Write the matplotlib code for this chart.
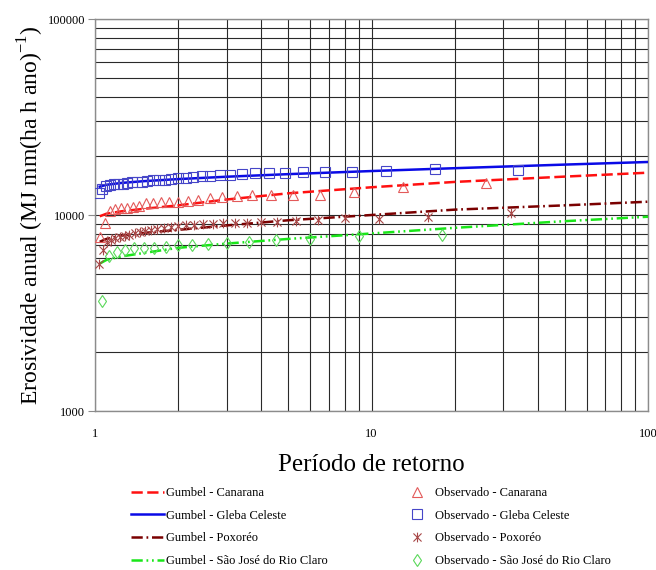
import numpy as np
import matplotlib
import matplotlib.pyplot as plt
from matplotlib.path import Path

matplotlib.use('agg')

# periodos de retorno usados para as curvas de Gumbel
t_fit = [1.04, 1.1, 1.25, 1.5, 2, 3, 5, 10, 20, 50, 100]

gumbel_canarana = [9850, 10150, 10450, 10750, 11200, 12000, 12900, 13850, 14750, 15700, 16440]
gumbel_gleba = [13950, 14260, 14580, 14880, 15250, 15680, 16160, 16760, 17330, 18080, 18640]
gumbel_poxoreo = [7300, 7550, 7850, 8100, 8400, 8850, 9400, 10000, 10650, 11200, 11690]
gumbel_sjrc = [5650, 5900, 6150, 6400, 6800, 7150, 7550, 8050, 8600, 9300, 9800]

# observados - Canarana
t_canarana = [26, 13, 8.67, 6.5, 5.2, 4.33, 3.71, 3.25, 2.89, 2.6, 2.36, 2.17, 2.0,
              1.857, 1.733, 1.625, 1.529, 1.444, 1.368, 1.3, 1.238, 1.182, 1.13, 1.083, 1.04]
obs_canarana = [14500, 13950, 13150, 12650, 12600, 12700, 12600, 12500, 12400, 12200, 11950, 11800, 11700,
                11650, 11600, 11550, 11450, 11100, 11000, 10900, 10800, 10700, 10500, 9100, 7700]

# observados - Gleba Celeste
t_gleba = [34, 17, 11.33, 8.5, 6.8, 5.67, 4.86, 4.25, 3.78, 3.4, 3.09, 2.83, 2.615, 2.43, 2.27, 2.125, 2.0,
           1.889, 1.789, 1.7, 1.619, 1.545, 1.478, 1.417, 1.36, 1.308, 1.259, 1.214, 1.172, 1.133, 1.097,
           1.0625, 1.03]
obs_gleba = [17030, 17100, 16770, 16630, 16500, 16630, 16430, 16380, 16290, 16190, 16080, 15990, 15890, 15800,
             15630, 15530, 15440, 15260, 15170, 15080, 15000, 14910, 14820, 14730, 14650, 14560, 14470, 14390,
             14310, 14230, 14060, 13570, 12950]

# observados - Poxoreo
t_poxoreo = [32, 16, 10.67, 8, 6.4, 5.33, 4.57, 4, 3.56, 3.2, 2.91, 2.67, 2.46, 2.29, 2.13, 2.0, 1.88, 1.78,
             1.68, 1.6, 1.52, 1.45, 1.39, 1.33, 1.28, 1.23, 1.185, 1.143, 1.103, 1.067, 1.032]
obs_poxoreo = [10200, 9730, 9500, 9620, 9430, 9350, 9250, 9200, 9150, 9100, 9050, 9000, 8950, 8900, 8850, 8800,
               8700, 8600, 8500, 8400, 8250, 8150, 8050, 7950, 7850, 7750, 7600, 7450, 7300, 6650, 5600]

# observados - Sao Jose do Rio Claro
t_sjrc = [18, 9, 6, 4.5, 3.6, 3.0, 2.57, 2.25, 2.0, 1.8, 1.636, 1.5, 1.385, 1.286, 1.2, 1.125, 1.059]
obs_sjrc = [7900, 7830, 7520, 7450, 7250, 7170, 7100, 7040, 7000, 6900, 6800, 6750, 6750, 6630, 6450, 6150, 3650]

x_ticks = [1, 10, 100]
y_ticks = [1000, 10000, 100000]

serif = 'Liberation Serif'

# marcador tipo "asterisco" do excel (X com traco vertical)
star_path = Path([(-1, -1), (1, 1), (-1, 1), (1, -1), (0, -1.2), (0, 1.2)],
                 [Path.MOVETO, Path.LINETO, Path.MOVETO, Path.LINETO, Path.MOVETO, Path.LINETO])

fig = plt.figure(figsize=(6.56, 5.70), dpi=100)
ax = fig.add_axes([95 / 656, 159 / 570, 553 / 656, 392 / 570])

ax.plot(t_fit, gumbel_canarana, color='#ff1010', lw=1.8, dashes=(4.5, 1.8), label='Gumbel - Canarana', zorder=3)
ax.plot(t_fit, gumbel_gleba, color='#0a0ae6', lw=1.8, label='Gumbel - Gleba Celeste', zorder=3)
ax.plot(t_fit, gumbel_poxoreo, color='#7a0000', lw=1.8, dashes=(4.5, 1.5, 0.7, 1.5),
        label='Gumbel - Poxoréo', zorder=3)
ax.plot(t_fit, gumbel_sjrc, color='#19e619', lw=1.8, dashes=(4.5, 1.5, 0.7, 1.5, 0.7, 1.5),
        label='Gumbel - São José do Rio Claro', zorder=3)

ax.plot(t_canarana, obs_canarana, ls='none', marker='^', ms=7, mfc='none', mec='#e35a5a', mew=0.8,
        label='Observado - Canarana', zorder=4)
ax.plot(t_gleba, obs_gleba, ls='none', marker='s', ms=6.5, mfc='none', mec='#4646c8', mew=0.8,
        label='Observado - Gleba Celeste', zorder=4)
ax.plot(t_poxoreo, obs_poxoreo, ls='none', marker=star_path, ms=7, mfc='none', mec='#a84848', mew=0.8,
        label='Observado - Poxoréo', zorder=4)
ax.plot(t_sjrc, obs_sjrc, ls='none', marker='d', ms=6.5, mfc='none', mec='#5ad85a', mew=0.8,
        label='Observado - São José do Rio Claro', zorder=4)

ax.set_xscale('log')
ax.set_yscale('log')
ax.set_xlim(1, 100)
ax.set_ylim(1000, 100000)

ax.grid(True, which='both', color='#2a2a2a', lw=0.8)
ax.set_axisbelow(True)
for s in ax.spines.values():
    s.set_color('#8c8c8c')
    s.set_linewidth(1.0)

ax.set_xticks(x_ticks)
ax.set_xticklabels([str(v) for v in x_ticks])
ax.set_yticks(y_ticks)
ax.set_yticklabels([str(v) for v in y_ticks])
ax.tick_params(which='minor', length=0)
ax.tick_params(axis='x', which='major', length=0, pad=12)
ax.tick_params(axis='y', which='major', length=5, pad=2, color='#8c8c8c')
for lb in ax.get_xticklabels() + ax.get_yticklabels():
    lb.set_fontfamily(serif)
    lb.set_fontsize(9)

ax.set_xlabel('Período de retorno', fontfamily=serif, fontsize=18, labelpad=10)
ax.set_ylabel('Erosividade anual (MJ mm(ha h ano)$^{\\mathregular{-1}}$)', fontfamily=serif,
              fontsize=17, labelpad=1)

handles, labels = ax.get_legend_handles_labels()
fig.legend(handles, labels, ncol=2, loc='upper left', bbox_to_anchor=(131 / 656, 1 - 487 / 570),
           frameon=False, prop={'family': serif, 'size': 9}, handlelength=2.6, handletextpad=0.2,
           columnspacing=5.8, labelspacing=0.85, borderpad=0, borderaxespad=0)

plt.savefig('out.png', dpi=100)
